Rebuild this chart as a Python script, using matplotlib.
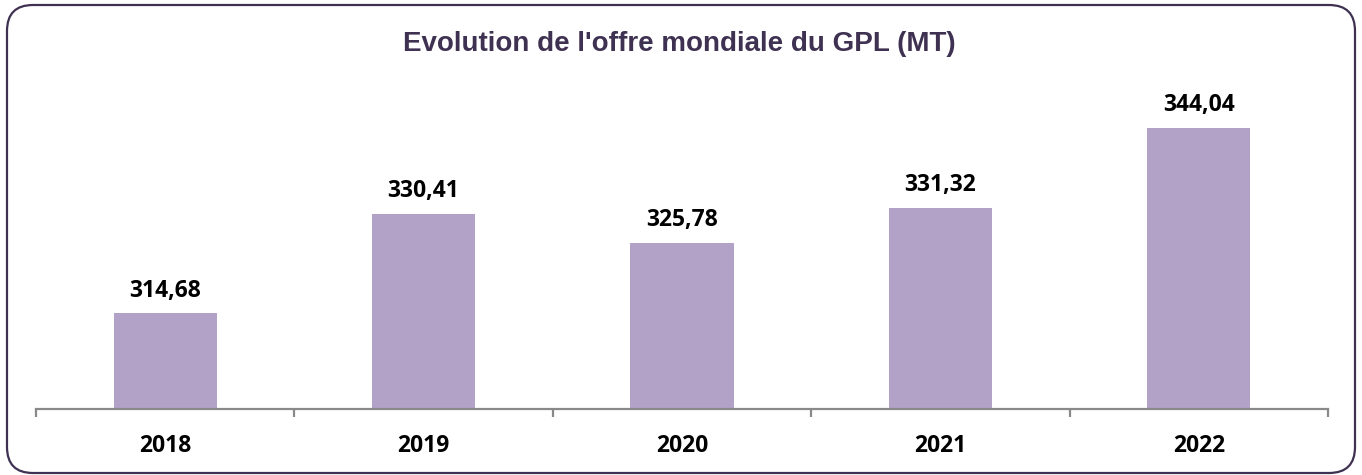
import matplotlib.pyplot as plt
from matplotlib.patches import FancyBboxPatch
import numpy as np

years = ["2018", "2019", "2020", "2021", "2022"]
supply = [314.68, 330.41, 325.78, 331.32, 344.04]
title = "Evolution de l'offre mondiale du GPL (MT)"

bar_color = "#b3a2c7"
dark_purple = "#3f3151"
label_font = "Open Sans"

fig = plt.figure(figsize=(13.62, 4.75), dpi=100)

# rounded frame around the chart, in inches so corners stay round
frame = FancyBboxPatch((0.07, 0.02), 13.48, 4.68,
                       boxstyle="round,pad=0,rounding_size=0.26",
                       transform=fig.dpi_scale_trans, fill=False,
                       edgecolor=dark_purple, linewidth=1.6, zorder=0)
fig.patches.append(frame)

ax = fig.add_axes([36 / 1362, 1 - 408.5 / 475, 1292 / 1362, 318.6 / 475])
x = np.arange(len(years))
ax.bar(x, supply, width=0.40, color=bar_color, zorder=2)
ax.set_xlim(-0.5, len(years) - 0.5)
ax.set_ylim(299.6, 350)

for xi, v in zip(x, supply):
    ax.annotate(f"{v:.2f}".replace(".", ","), (xi, v), xytext=(0, 12),
                textcoords="offset points", ha="center", va="baseline",
                fontsize=16.5, fontweight="bold", family=label_font, color="black")

for s in ["top", "right", "left"]:
    ax.spines[s].set_visible(False)
ax.spines["bottom"].set_color("#898989")
ax.spines["bottom"].set_linewidth(1.6)
ax.set_yticks([])

ax.set_xticks(x)
ax.set_xticklabels(years, fontsize=16.5, fontweight="bold", family=label_font)
ax.tick_params(axis="x", which="major", length=0, pad=18)
ax.set_xticks(np.arange(-0.5, len(years)), minor=True)
ax.tick_params(axis="x", which="minor", length=5.5, width=1.6, color="#898989")

fig.text(0.499, 1 - 44 / 475, title, ha="center", va="center",
         fontsize=20, fontweight="bold", family="Liberation Sans",
         color=dark_purple)

fig.savefig("out.png", dpi=100)
